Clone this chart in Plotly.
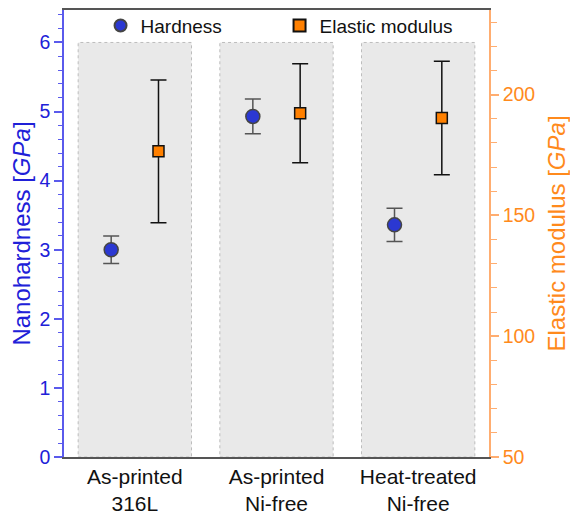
import plotly.graph_objects as go

categories = ["As-printed<br>316L", "As-printed<br>Ni-free", "Heat-treated<br>Ni-free"]
hardness = [3.00, 4.93, 3.36]
hardness_err = [0.20, 0.25, 0.24]
modulus = [176.5, 192.3, 190.3]
modulus_err = [29.5, 20.5, 23.5]
band_top = 6.0

BLUE_TXT = "#2020d8"
BLUE_LINE = "#5a5aec"
ORANGE_TXT = "#ff8a1c"
ORANGE_LINE = "#ffad70"
FONT = "Liberation Sans, Arial, Helvetica, sans-serif"

idx = list(range(len(categories)))
off = 0.167

fig = go.Figure()

for i in idx:
    fig.add_shape(type="rect", xref="x", yref="y", x0=i - 0.4, x1=i + 0.4, y0=0, y1=band_top,
                  fillcolor="#e9e9e9", line=dict(color="#bdbdbd", width=1, dash="dot"), layer="below")

fig.add_trace(go.Scatter(
    x=[i - off for i in idx], y=hardness, mode="markers", name="Hardness",
    marker=dict(symbol="circle", size=14, color="#2b38d2", line=dict(color="#454545", width=1.5)),
    error_y=dict(type="data", array=hardness_err, color="#555555", thickness=1.5, width=8),
    yaxis="y",
))
fig.add_trace(go.Scatter(
    x=[i + off for i in idx], y=modulus, mode="markers", name="Elastic modulus",
    marker=dict(symbol="square", size=11, color="#ff8000", line=dict(color="#111111", width=1.5)),
    error_y=dict(type="data", array=modulus_err, color="#111111", thickness=1.5, width=8),
    yaxis="y2",
))

fig.update_layout(
    width=570, height=516,
    margin=dict(l=64, r=81, t=10, b=59, autoexpand=False),
    plot_bgcolor="white", paper_bgcolor="white",
    font=dict(family=FONT, size=19, color="black"),
    showlegend=True,
    legend=dict(orientation="h", x=0.086, xanchor="left", y=0.965, yanchor="middle",
                bgcolor="rgba(0,0,0,0)", font=dict(size=19, color="#111111"),
                entrywidth=134, entrywidthmode="pixels", itemsizing="constant"),
    xaxis=dict(range=[-0.5, 2.5], tickvals=idx, ticktext=categories, showgrid=False, zeroline=False,
               showline=True, linecolor="#555555", linewidth=1.5, mirror=True, ticks="",
               automargin=False, tickfont=dict(size=21, color="#111111")),
    yaxis=dict(range=[0, 6.47], tickvals=[0, 1, 2, 3, 4, 5, 6], showgrid=False, zeroline=False,
               showline=True, linecolor=BLUE_LINE, linewidth=1.5, ticks="outside", ticklen=8,
               tickcolor=BLUE_LINE, tickwidth=1.5, tickfont=dict(size=19.5, color=BLUE_TXT),
               automargin=False,
               minor=dict(dtick=0.2, ticks="outside", ticklen=4, tickcolor=BLUE_LINE, tickwidth=1.2),
               title=dict(text="Nanohardness [<i>GPa</i>]", font=dict(size=24, color=BLUE_TXT), standoff=2)),
    yaxis2=dict(range=[50, 235], tickvals=[50, 100, 150, 200], overlaying="y", side="right",
                showgrid=False, zeroline=False, showline=True, linecolor=ORANGE_LINE, linewidth=1.5,
                ticks="outside", ticklen=8, tickcolor=ORANGE_LINE, tickwidth=1.5,
                tickfont=dict(size=19.5, color=ORANGE_TXT), automargin=False,
                minor=dict(dtick=10, ticks="outside", ticklen=6, tickcolor=ORANGE_LINE, tickwidth=1.2),
                title=dict(text="Elastic modulus [<i>GPa</i>]", font=dict(size=24, color=ORANGE_TXT), standoff=14)),
)

fig.write_html("out.html", config={"displayModeBar": False},
               post_script="document.body.style.margin='0';")
